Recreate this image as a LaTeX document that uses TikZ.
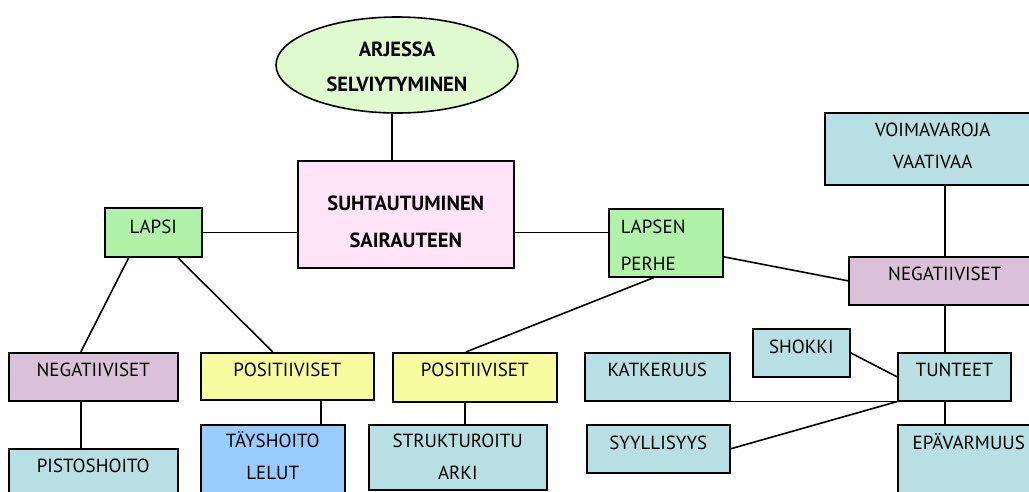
\documentclass[tikz,border=0pt]{standalone}
\usepackage{fontspec}
\setmainfont{PT Sans}
\usetikzlibrary{shapes.geometric}
\definecolor{ovalgreen}{RGB}{224,250,208}
\definecolor{suhtpink}{RGB}{255,228,248}
\definecolor{lapsigreen}{RGB}{176,242,168}
\definecolor{negviolet}{RGB}{218,192,216}
\definecolor{posyellow}{RGB}{248,252,160}
\definecolor{hoitoblue}{RGB}{153,204,255}
\definecolor{tunneteal}{RGB}{184,224,228}

\begin{document}
\begin{tikzpicture}[x=1pt, y=-1pt, line width=1.6pt,
    box/.style={draw, inner sep=0pt, anchor=north west, align=center,
      font=\fontsize{19}{32}\selectfont},
    onerow/.style={text height=23.5pt, text depth=24.5pt}]
  \useasboundingbox (0,0) rectangle (1029,491);
  \clip (0,0) rectangle (1029,491);

  \node[draw, ellipse, fill=ovalgreen, inner sep=0pt, minimum width=242pt,
    minimum height=96pt, text width=160pt, align=center, text height=20pt,
    text depth=37pt, font=\fontsize{20.5}{35}\selectfont\bfseries] (arki) at
    (397,65) {ARJESSA\\SELVIYTYMINEN};
  \node[box, fill=suhtpink, text width=216pt, text height=49.5pt,
    text depth=57.5pt, font=\fontsize{20.5}{37}\selectfont\bfseries] (suht) at
    (297,160) {SUHTAUTUMINEN\\SAIRAUTEEN};

  \node[box, fill=lapsigreen, text width=97pt, text height=25.5pt,
    text depth=23.5pt] (lapsi) at (104,207) {LAPSI};
  \node[box, fill=negviolet, onerow, text width=169pt] (lneg) at (8,352)
    {NEGATIIVISET};
  \node[box, fill=posyellow, text width=173pt, text height=23.5pt,
    text depth=23.5pt] (lpos) at (200,352) {POSITIIVISET};
  \node[box, fill=tunneteal, text width=169pt, text height=23.5pt,
    text depth=30pt] (pisto) at (8,448) {PISTOSHOITO};
  \node[box, fill=hoitoblue, text width=144pt, text height=22.5pt,
    text depth=50pt] (hoito) at (200,424) {TÄYSHOITO\\LELUT};

  \node[box, fill=lapsigreen, align=left, inner xsep=12pt, text width=90pt,
    text height=24.5pt, text depth=43.5pt,
    font=\fontsize{19}{37}\selectfont] (perhe) at (608,208) {LAPSEN\\PERHE};
  \node[box, fill=posyellow, text width=164pt, text height=23.5pt,
    text depth=25.5pt] (ppos) at (392,352) {POSITIIVISET};
  \node[box, fill=tunneteal, text width=178pt, text height=22.5pt,
    text depth=42.5pt] (arkki) at (368,424) {STRUKTUROITU\\ARKI};

  \node[box, fill=tunneteal, text width=216pt, text height=23.5pt,
    text depth=48.5pt] (voima) at (824,112) {VOIMAVAROJA\\VAATIVAA};
  \node[box, fill=negviolet, onerow, text width=192pt] (pneg) at (848,256)
    {NEGATIIVISET};
  \node[box, fill=tunneteal, onerow, text width=113pt] (tunne) at (897,352)
    {TUNTEET};
  \node[box, fill=tunneteal, text width=97pt, text height=24.5pt,
    text depth=23.5pt] (shokki) at (752,328) {SHOKKI};
  \node[box, fill=tunneteal, onerow, text width=145pt] (katk) at (584,352)
    {KATKERUUS};
  \node[box, fill=tunneteal, text width=143pt, text height=24.5pt,
    text depth=23.5pt] (syyl) at (586,424) {SYYLLISYYS};
  \node[box, fill=tunneteal, text width=142pt, text height=24.5pt,
    text depth=50pt] (epav) at (897,424) {EPÄVARMUUS};

  \draw ([xshift=-5pt]arki.south) -- ([xshift=-5pt]arki.south |- suht.north);
  \draw (lapsi.east) -- (lapsi.east -| suht.west);
  \draw (lapsi.east -| suht.east) -- (lapsi.east -| perhe.west);
  \draw ([xshift=-24.5pt]lapsi.south) -- ([xshift=-12.5pt]lneg.north);
  \draw ([xshift=24.5pt]lapsi.south) -- ([xshift=-14.5pt]lpos.north);
  \draw ([xshift=-12.5pt]lneg.south) -- ([xshift=-12.5pt]pisto.north);
  \draw ([xshift=33.5pt]lpos.south) -- ([xshift=33.5pt]lpos.south |- hoito.north);
  \draw ([xshift=-12pt]perhe.south) -- ([xshift=-9pt]ppos.north);
  \draw ([xshift=-10pt]ppos.south) -- ([xshift=-10pt]ppos.south |- arkki.north);
  \draw ([yshift=-14pt]perhe.east) -- (pneg.west);
  \draw (pneg.north) -- (pneg.north |- voima.south);
  \draw (pneg.south) -- (pneg.south |- tunne.north);
  \draw (shokki.east) -- (tunne.west);
  \draw (katk.south east) -- (tunne.south west);
  \draw (syyl.east) -- (tunne.south west);
  \draw (pneg.south |- tunne.south) -- (pneg.south |- epav.north);
\end{tikzpicture}
\end{document}
